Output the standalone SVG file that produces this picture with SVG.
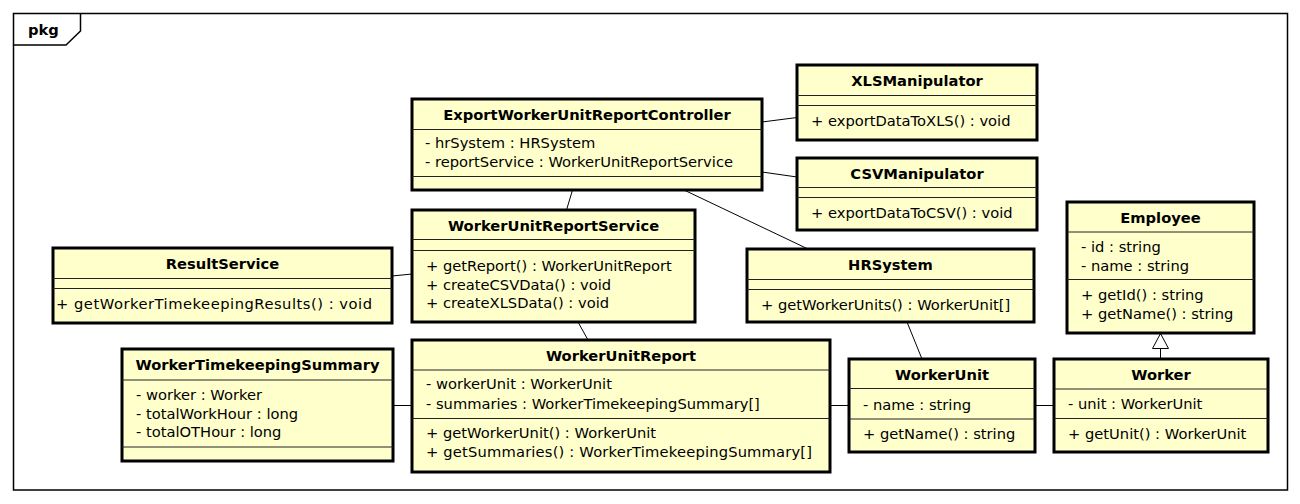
<svg xmlns="http://www.w3.org/2000/svg" width="1300" height="504" viewBox="0 0 1300 504">
<style>
.frame{fill:none;stroke:#000;stroke-width:1.5}
.box{fill:#ffffcc;stroke:#000;stroke-width:3}
.sep{stroke:#222;stroke-width:1}
text{font-family:"DejaVu Sans",sans-serif;font-size:14.7px;fill:#000}
.ti{font-weight:bold;text-anchor:middle}
.pk{font-weight:bold}
#connectors line,#connectors path{stroke:#000;stroke-width:1;fill:none}
</style>
<defs>
<marker id="gen" markerWidth="20" markerHeight="20" refX="16" refY="9" orient="auto" markerUnits="userSpaceOnUse">
<path d="M1,1 L16,9 L1,17 Z" fill="#fff" stroke="#000" stroke-width="1"/>
</marker>
</defs>
<rect width="1300" height="504" fill="#fff"/>
<g id="frame">
<rect class="frame" x="13.5" y="13.5" width="1274" height="476.5"/>
<path class="frame" d="M13.5,45 L66,45 L80.5,31 L80.5,13.5"/>
<text class="pk" x="28" y="35">pkg</text>
</g>
<g id="connectors">
<line x1="762" y1="122" x2="797" y2="117.5"/>
<line x1="762" y1="172" x2="797" y2="177"/>
<line x1="572.5" y1="190" x2="566.5" y2="210"/>
<line x1="684" y1="190" x2="808" y2="249"/>
<line x1="392" y1="276" x2="412" y2="274"/>
<line x1="578" y1="322" x2="588" y2="340"/>
<line x1="907" y1="322" x2="922" y2="359"/>
<line x1="393" y1="405.5" x2="412" y2="405.5"/>
<line x1="830" y1="405.5" x2="849" y2="405.5"/>
<line x1="1035" y1="405.5" x2="1054" y2="405.5"/>
<path d="M1160.5,359 L1160.5,333.5" marker-end="url(#gen)"/>
</g>
<g id="ExportWorkerUnitReportController">
<rect class="box" x="412" y="99" width="350" height="91"/>
<line class="sep" x1="412" y1="129.5" x2="762" y2="129.5"/>
<line class="sep" x1="412" y1="176.5" x2="762" y2="176.5"/>
<text class="ti" x="587" y="120">ExportWorkerUnitReportController</text>
<text x="425" y="148">- hrSystem : HRSystem</text>
<text x="425" y="167">- reportService : WorkerUnitReportService</text>
</g>
<g id="XLSManipulator">
<rect class="box" x="797" y="65" width="240" height="75"/>
<line class="sep" x1="797" y1="95.5" x2="1037" y2="95.5"/>
<line class="sep" x1="797" y1="105.5" x2="1037" y2="105.5"/>
<text class="ti" x="917" y="86">XLSManipulator</text>
<text x="811" y="126">+ exportDataToXLS() : void</text>
</g>
<g id="CSVManipulator">
<rect class="box" x="797" y="158" width="240" height="72"/>
<line class="sep" x1="797" y1="187.5" x2="1037" y2="187.5"/>
<line class="sep" x1="797" y1="197.5" x2="1037" y2="197.5"/>
<text class="ti" x="917" y="179">CSVManipulator</text>
<text x="811" y="217.5">+ exportDataToCSV() : void</text>
</g>
<g id="ResultService">
<rect class="box" x="53" y="248" width="339" height="75"/>
<line class="sep" x1="53" y1="278.5" x2="392" y2="278.5"/>
<line class="sep" x1="53" y1="288.5" x2="392" y2="288.5"/>
<text class="ti" x="222.5" y="269">ResultService</text>
<text x="56" y="309" textLength="316" lengthAdjust="spacing">+ getWorkerTimekeepingResults() : void</text>
</g>
<g id="WorkerUnitReportService">
<rect class="box" x="412" y="210" width="283" height="112"/>
<line class="sep" x1="412" y1="239.5" x2="695" y2="239.5"/>
<line class="sep" x1="412" y1="250.5" x2="695" y2="250.5"/>
<text class="ti" x="553.5" y="231">WorkerUnitReportService</text>
<text x="426" y="271">+ getReport() : WorkerUnitReport</text>
<text x="426" y="289.5">+ createCSVData() : void</text>
<text x="426" y="308">+ createXLSData() : void</text>
</g>
<g id="HRSystem">
<rect class="box" x="747" y="249" width="287" height="73"/>
<line class="sep" x1="747" y1="279.5" x2="1034" y2="279.5"/>
<line class="sep" x1="747" y1="289.5" x2="1034" y2="289.5"/>
<text class="ti" x="890.5" y="270">HRSystem</text>
<text x="761" y="310">+ getWorkerUnits() : WorkerUnit[]</text>
</g>
<g id="Employee">
<rect class="box" x="1067" y="202" width="187" height="131"/>
<line class="sep" x1="1067" y1="232" x2="1254" y2="232"/>
<line class="sep" x1="1067" y1="279.5" x2="1254" y2="279.5"/>
<text class="ti" x="1160.5" y="223">Employee</text>
<text x="1081" y="251.5">- id : string</text>
<text x="1081" y="270.5">- name : string</text>
<text x="1081" y="300">+ getId() : string</text>
<text x="1081" y="319">+ getName() : string</text>
</g>
<g id="WorkerTimekeepingSummary">
<rect class="box" x="122" y="349" width="271" height="112"/>
<line class="sep" x1="122" y1="380" x2="393" y2="380"/>
<line class="sep" x1="122" y1="447" x2="393" y2="447"/>
<text class="ti" x="257.5" y="370">WorkerTimekeepingSummary</text>
<text x="136" y="400">- worker : Worker</text>
<text x="136" y="418.5">- totalWorkHour : long</text>
<text x="136" y="437">- totalOTHour : long</text>
</g>
<g id="WorkerUnitReport">
<rect class="box" x="412" y="340" width="418" height="132"/>
<line class="sep" x1="412" y1="370" x2="830" y2="370"/>
<line class="sep" x1="412" y1="418.5" x2="830" y2="418.5"/>
<text class="ti" x="621" y="361">WorkerUnitReport</text>
<text x="426" y="389">- workerUnit : WorkerUnit</text>
<text x="426" y="408.5">- summaries : WorkerTimekeepingSummary[]</text>
<text x="426" y="438">+ getWorkerUnit() : WorkerUnit</text>
<text x="426" y="456.5" textLength="386" lengthAdjust="spacing">+ getSummaries() : WorkerTimekeepingSummary[]</text>
</g>
<g id="WorkerUnit">
<rect class="box" x="849" y="359" width="186" height="93"/>
<line class="sep" x1="849" y1="388.5" x2="1035" y2="388.5"/>
<line class="sep" x1="849" y1="419" x2="1035" y2="419"/>
<text class="ti" x="942" y="380">WorkerUnit</text>
<text x="863" y="409.5">- name : string</text>
<text x="863" y="439">+ getName() : string</text>
</g>
<g id="Worker">
<rect class="box" x="1054" y="359" width="214" height="93"/>
<line class="sep" x1="1054" y1="389" x2="1268" y2="389"/>
<line class="sep" x1="1054" y1="418.5" x2="1268" y2="418.5"/>
<text class="ti" x="1161" y="380">Worker</text>
<text x="1068" y="409">- unit : WorkerUnit</text>
<text x="1068" y="438.5">+ getUnit() : WorkerUnit</text>
</g>
</svg>
